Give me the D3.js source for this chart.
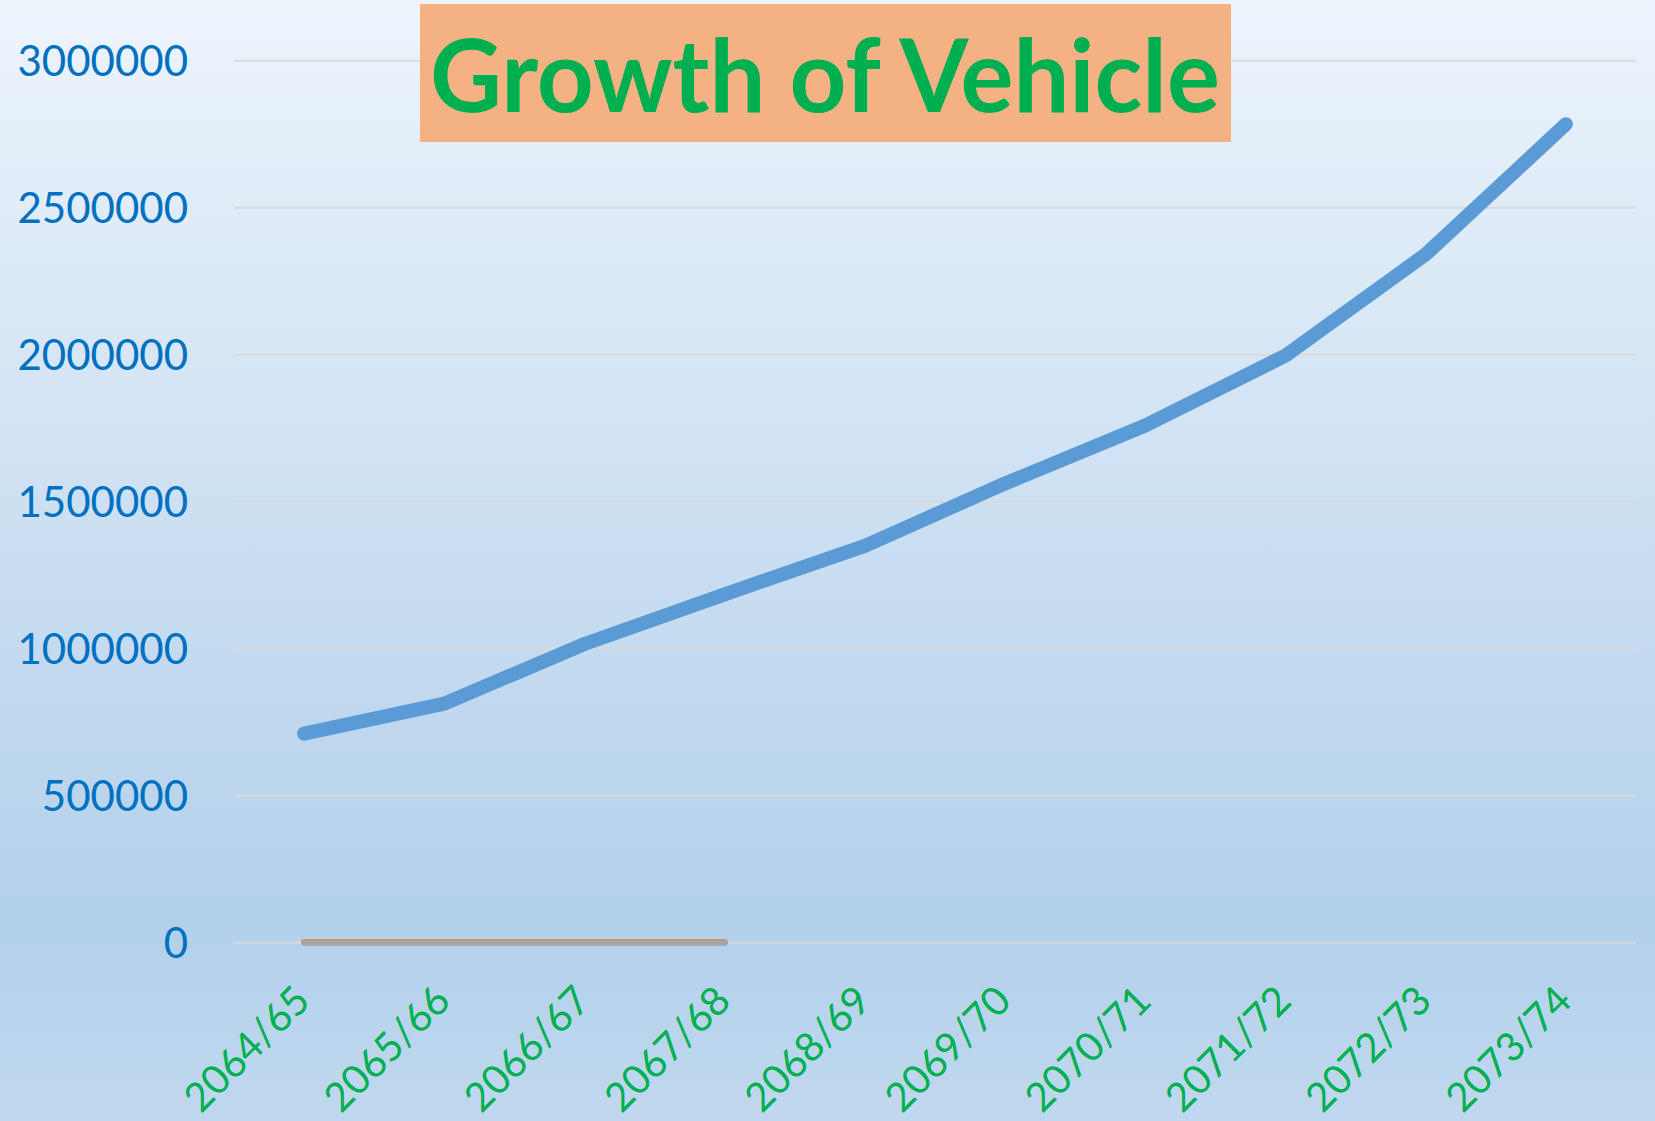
<!DOCTYPE html>
<html>
<head>
<meta charset="utf-8">
<script src="https://cdn.jsdelivr.net/npm/d3@7"></script>
<style>
  html, body { margin: 0; padding: 0; overflow: hidden; }
  svg { display: block; }
</style>
</head>
<body>
<div id="chart"></div>
<script>
// Fiscal years (Nepali calendar) and registered vehicles
const years = ["2064/65", "2065/66", "2066/67", "2067/68", "2068/69",
               "2069/70", "2070/71", "2071/72", "2072/73", "2073/74"];
const vehicles = [711000, 813000, 1016000, 1185000, 1350000,
                  1562000, 1759000, 1997000, 2341000, 2784000];
// two near-zero series that only cover the first four years
const seriesOrange = [2000, 2000, 2000, 2000];
const seriesGrey = [0, 0, 0, 0];
const yTicks = [0, 500000, 1000000, 1500000, 2000000, 2500000, 3000000];
const title = "Growth of Vehicle";

const W = 1655, H = 1121;
const margin = { top: 60.7, right: 19, bottom: H - 942.7, left: 234 };

const svg = d3.select("#chart").append("svg")
    .attr("width", W)
    .attr("height", H);

// background gradient
const grad = svg.append("defs").append("linearGradient")
    .attr("id", "bg")
    .attr("x1", 0).attr("y1", 0).attr("x2", 0).attr("y2", 1);
grad.append("stop").attr("offset", "0%").attr("stop-color", "#EDF4FC");
grad.append("stop").attr("offset", "82%").attr("stop-color", "#B3D0EB");
grad.append("stop").attr("offset", "100%").attr("stop-color", "#C0D8EF");

svg.append("rect")
    .attr("width", W)
    .attr("height", H)
    .attr("fill", "url(#bg)");

// scales
const x = d3.scaleBand()
    .domain(years)
    .range([margin.left, W - margin.right]);
const y = d3.scaleLinear()
    .domain([0, 3000000])
    .range([H - margin.bottom, margin.top]);
const cx = d => x(d) + x.bandwidth() / 2;

// gridlines
svg.append("g")
    .selectAll("line")
    .data(yTicks)
    .join("line")
    .attr("x1", margin.left)
    .attr("x2", W - margin.right)
    .attr("y1", d => y(d))
    .attr("y2", d => y(d))
    .attr("stroke", "#D9D9D9")
    .attr("stroke-width", 2);

// y axis labels
const yAxis = d3.axisLeft(y).tickValues(yTicks).tickSize(0).tickPadding(0)
    .tickFormat(d3.format("d"));
svg.append("g")
    .attr("transform", "translate(188,0)")
    .call(yAxis)
    .call(g => {
        g.select(".domain").remove();
        g.selectAll("text")
            .attr("fill", "#0070C0")
            .attr("dy", "0.36em")
            .style("font-family", "Lato, 'Open Sans', sans-serif")
            .style("font-size", "42px");
    });

// x axis labels, rotated
svg.append("g")
    .selectAll("text")
    .data(years)
    .join("text")
    .attr("transform", d => `translate(${cx(d) + 8},1003) rotate(-45)`)
    .attr("text-anchor", "end")
    .attr("fill", "#00B050")
    .style("font-family", "Lato, 'Open Sans', sans-serif")
    .style("font-size", "40px")
    .text(d => d);

// lines
const line = d3.line()
    .x((d, i) => cx(years[i]))
    .y(d => y(d));

svg.append("path")
    .datum(seriesOrange)
    .attr("d", line)
    .attr("fill", "none")
    .attr("stroke", "#ED7D31")
    .attr("stroke-width", 6)
    .attr("stroke-linecap", "round");

svg.append("path")
    .datum(seriesGrey)
    .attr("d", line)
    .attr("fill", "none")
    .attr("stroke", "#A5A5A5")
    .attr("stroke-width", 6)
    .attr("stroke-linecap", "round");

svg.append("path")
    .datum(vehicles)
    .attr("d", line)
    .attr("fill", "none")
    .attr("stroke", "#5B9BD5")
    .attr("stroke-width", 14)
    .attr("stroke-linecap", "round")
    .attr("stroke-linejoin", "round");

// title box
svg.append("rect")
    .attr("x", 420)
    .attr("y", 4)
    .attr("width", 811)
    .attr("height", 138)
    .attr("fill", "#F4B183");

svg.append("text")
    .attr("x", 825)
    .attr("y", 112)
    .attr("text-anchor", "middle")
    .attr("fill", "#00B050")
    .attr("textLength", 790)
    .attr("lengthAdjust", "spacingAndGlyphs")
    .style("font-family", "Lato, 'Open Sans', sans-serif")
    .style("font-weight", "bold")
    .style("font-size", "102px")
    .text(title);
</script>
</body>
</html>
